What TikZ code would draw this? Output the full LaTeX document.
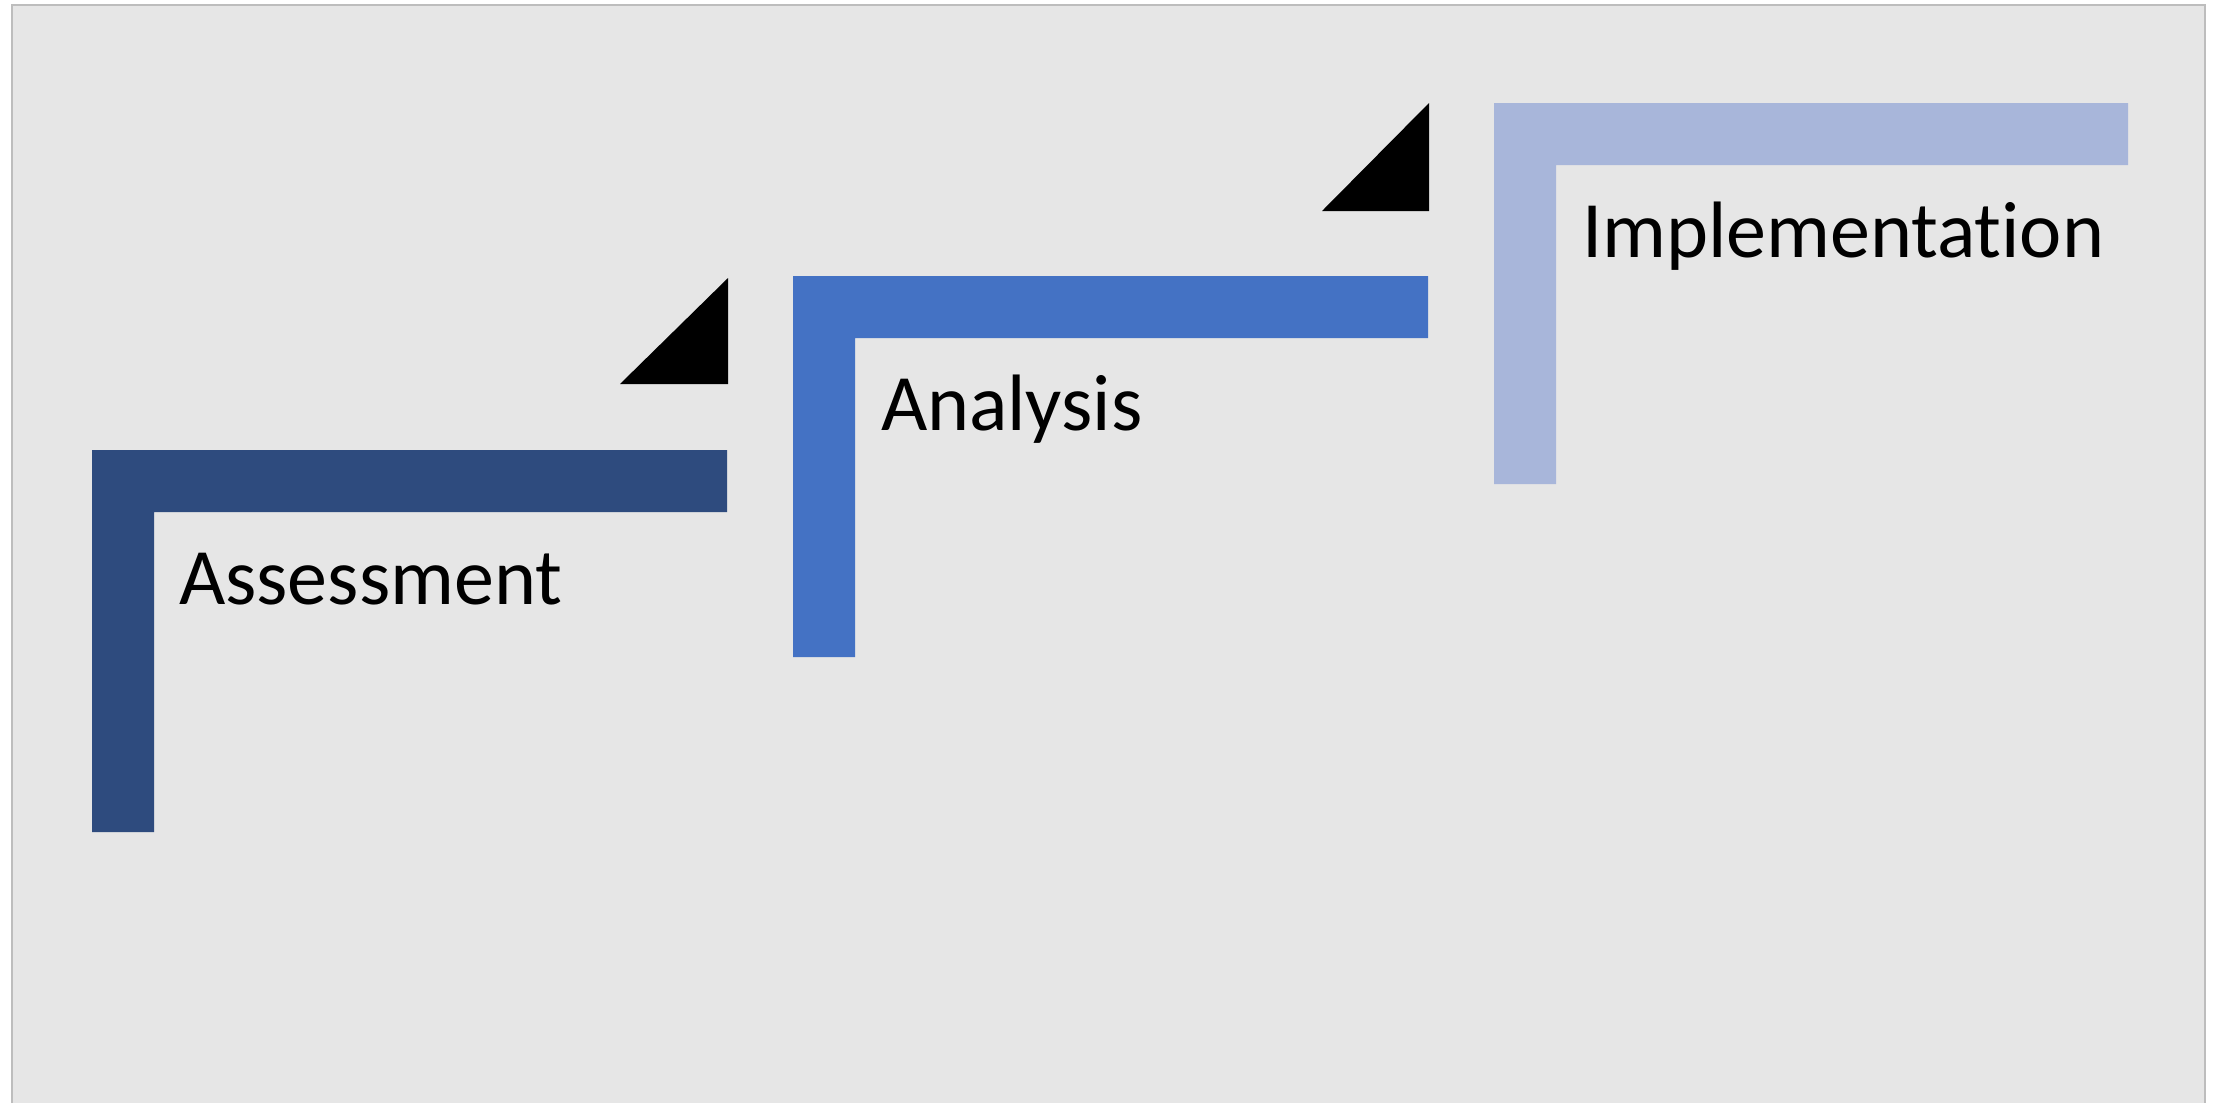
\documentclass[tikz,border=0pt]{standalone}
\usepackage{fontspec}
\setmainfont{Carlito}[Ligatures={NoCommon,NoRequired,NoContextual,NoDiscretionary}]
\definecolor{pagefill}{HTML}{E6E6E6}
\definecolor{pageedge}{HTML}{BDBDBD}
\definecolor{stepone}{HTML}{2E4B7E}
\definecolor{steptwo}{HTML}{4472C4}
\definecolor{stepthree}{HTML}{A8B6DA}
\tikzset{
  steplabel/.style={anchor=base west, inner sep=0pt, outer sep=0pt, text=black,
    font=\fontsize{40pt}{48pt}\selectfont},
  marker/.style={fill=black, draw=none}
}
\begin{document}
\begin{tikzpicture}[x=0.5pt,y=-0.5pt]
\useasboundingbox (0,0) rectangle (2221,1103);
\fill[white] (0,0) rectangle (2221,1103);
\fill[pagefill] (12,5) rectangle (2205,1103);
\draw[pageedge, line width=1.2pt] (12,1103) -- (12,5) -- (2205,5) -- (2205,1103);
% step 1
\fill[stepone] (92,450) -- (727,450) -- (727,512) -- (154,512) -- (154,832) -- (92,832) -- cycle;
\node[steplabel] (assess) at (179,604) {Assessment};
% step 2
\fill[steptwo] (793,276) -- (1428,276) -- (1428,338) -- (855,338) -- (855,657) -- (793,657) -- cycle;
\node[steplabel] (analysis) at (881,430) {Analysis};
% step 3
\fill[stepthree] (1494,103) -- (2128,103) -- (2128,165) -- (1556,165) -- (1556,484) -- (1494,484) -- cycle;
\node[steplabel] (impl) at (1582,257) {Implementation};
% markers
\fill[marker] (620,384) -- (728,384) -- (728,278) -- cycle;
\fill[marker] (1322,211) -- (1429,211) -- (1429,103) -- cycle;
\end{tikzpicture}
\end{document}
